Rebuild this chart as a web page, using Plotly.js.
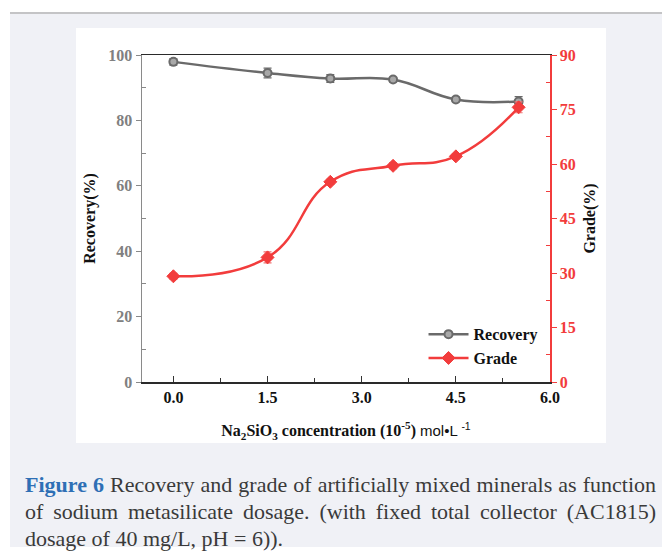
<!DOCTYPE html>
<html>
<head>
<meta charset="utf-8">
<script src="https://cdn.plot.ly/plotly-3.0.1.min.js"></script>
<style>
  html, body { margin: 0; padding: 0; background: #ffffff; }
  #page { position: relative; width: 662px; height: 553px; overflow: hidden; background: #ffffff; }
  #rule { position: absolute; left: 10px; top: 12px; width: 652px; height: 2px; background: #c4c4c6; }
  #frame { position: absolute; left: 10px; top: 14px; width: 652px; height: 533px; background: #f0f1f6; }
  #panel { position: absolute; left: 76px; top: 28px; width: 530px; height: 415px; background: #ffffff; }
  #chart { width: 530px; height: 415px; }
  #caption { position: absolute; left: 25px; top: 471px; width: 631px;
             font-family: "Liberation Serif", serif; font-size: 22px; color: #3a3a3a; }
  #caption .ln { height: 27px; line-height: 27px; white-space: nowrap; }
  #caption .just { text-align: justify; text-align-last: justify; }
  #caption b { color: #2e6fb5; }
</style>
</head>
<body>
<div id="page">
  <div id="rule"></div>
  <div id="frame"></div>
  <div id="panel"><div id="chart"></div></div>
  <div id="caption">
    <div class="ln just"><b>Figure 6</b> Recovery and grade of artificially mixed minerals as function</div>
    <div class="ln just">of sodium metasilicate dosage. (with fixed total collector (AC1815)</div>
    <div class="ln">dosage of 40 mg/L, pH = 6)).</div>
  </div>
</div>
<script>
// Na2SiO3 concentration, 10^-5 mol/L
const concentration = [0.0, 1.5, 2.5, 3.5, 4.5, 5.5];
// Recovery (%) and its error
const recovery = [97.9, 94.5, 92.8, 92.5, 86.4, 85.8];
const recoveryErr = [1.0, 1.5, 1.2, 0.7, 0.7, 1.5];
// Grade (%) and its error
const grade = [29.1, 34.3, 55.1, 59.5, 62.1, 75.6];
const gradeErr = [0.8, 1.5, 0.7, 0.8, 0.7, 1.5];

const xTicks = [0, 1.5, 3.0, 4.5, 6.0];
const xTickText = ['0.0', '1.5', '3.0', '4.5', '6.0'];
const yTicks = [0, 20, 40, 60, 80, 100];
const y2Ticks = [0, 15, 30, 45, 60, 75, 90];

const GRAY = '#6a6a6a';
const RED = '#f23c3c';
const serif = 'Liberation Serif, Times New Roman, serif';

const traces = [
  {
    x: concentration, y: recovery, name: 'Recovery', yaxis: 'y',
    type: 'scatter', mode: 'lines+markers',
    line: { color: GRAY, width: 2.5, shape: 'spline', smoothing: 1.2 },
    marker: { symbol: 'circle', size: 8, color: '#a8a8a8', line: { color: GRAY, width: 2 } },
    error_y: { type: 'data', array: recoveryErr, visible: true, color: GRAY, thickness: 1.2, width: 4 }
  },
  {
    x: concentration, y: grade, name: 'Grade', yaxis: 'y2',
    type: 'scatter', mode: 'lines+markers',
    line: { color: RED, width: 2.5, shape: 'spline', smoothing: 1.3 },
    marker: { symbol: 'diamond', size: 10, color: RED, line: { color: RED, width: 1 } },
    error_y: { type: 'data', array: gradeErr, visible: true, color: '#f07070', thickness: 1.2, width: 4 }
  }
];

const layout = {
  width: 530, height: 415,
  margin: { l: 66, r: 56, t: 27, b: 61 },
  paper_bgcolor: '#ffffff', plot_bgcolor: '#ffffff',
  font: { family: serif, size: 16, color: '#000' },
  showlegend: true,
  legend: {
    x: 0.69, y: 0.198, xanchor: 'left', yanchor: 'top',
    bgcolor: 'rgba(0,0,0,0)', tracegroupgap: 0, itemwidth: 40,
    font: { family: serif, size: 16, color: '#111', weight: 'bold' }
  },
  xaxis: {
    range: [-0.5, 6.0],
    tickvals: xTicks, ticktext: xTickText,
    ticks: 'inside', ticklen: 6, tickwidth: 1, tickcolor: '#333',
    minor: { tickvals: [0.75, 2.25, 3.75, 5.25], ticks: 'inside', ticklen: 4, tickcolor: '#333' },
    showline: true, linecolor: '#2a2a2a', linewidth: 1.5, mirror: true,
    showgrid: false, zeroline: false,
    tickfont: { family: serif, size: 16, color: '#111', weight: 'bold' },
    title: {
      text: '<b>Na<sub>2</sub>SiO<sub>3</sub> concentration (10<sup>-5</sup>)</b> <span style="font-family:Liberation Sans, Arial, sans-serif;font-size:15px">mol•L <sup>-1</sup></span>',
      font: { family: serif, size: 16, color: '#111' }, standoff: 20
    }
  },
  yaxis: {
    range: [0, 100],
    tickvals: yTicks,
    ticks: 'outside', ticklen: 5, tickwidth: 1, tickcolor: '#888',
    minor: { tickvals: [10, 30, 50, 70, 90], ticks: 'inside', ticklen: 4, tickcolor: '#888' },
    showline: true, linecolor: '#8a8a8a', linewidth: 1.5,
    showgrid: false, zeroline: false,
    tickfont: { family: serif, size: 16, color: '#808080', weight: 'bold' },
    title: { text: '<b>Recovery(%)</b>', font: { family: serif, size: 16, color: '#111' }, standoff: 8 }
  },
  yaxis2: {
    range: [0, 90], overlaying: 'y', side: 'right',
    tickvals: y2Ticks,
    ticks: 'outside', ticklen: 5, tickwidth: 1, tickcolor: RED,
    minor: { tickvals: [7.5, 22.5, 37.5, 52.5, 67.5, 82.5], ticks: 'inside', ticklen: 4, tickcolor: RED },
    showline: true, linecolor: RED, linewidth: 1.5,
    showgrid: false, zeroline: false,
    tickfont: { family: serif, size: 16, color: RED, weight: 'bold' },
    title: { text: '<b>Grade(%)</b>', font: { family: serif, size: 16, color: '#111' }, standoff: 9 }
  }
};

Plotly.newPlot('chart', traces, layout, { staticPlot: true, displayModeBar: false });
</script>
</body>
</html>
